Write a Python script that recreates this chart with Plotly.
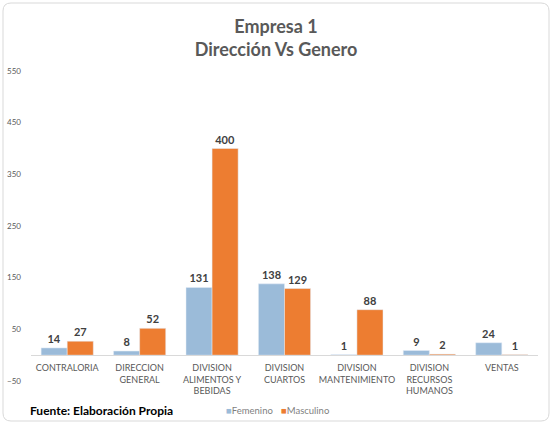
import plotly.graph_objects as go

categories = ["CONTRALORIA", "DIRECCION<br>GENERAL", "DIVISION<br>ALIMENTOS Y<br>BEBIDAS",
              "DIVISION<br>CUARTOS", "DIVISION<br>MANTENIMIENTO", "DIVISION<br>RECURSOS<br>HUMANOS", "VENTAS"]
femenino = [14, 8, 131, 138, 1, 9, 24]
masculino = [27, 52, 400, 129, 88, 2, 1]
y_ticks = [-50, 50, 150, 250, 350, 450, 550]
series_names = ["Femenino", "Masculino"]
series_colors = ["#9BBBD9", "#ED7D31"]

FONT = "Lato, 'Open Sans', sans-serif"
L, R, T, B = 31, 14, 71, 45
W, H = 552, 426
PW, PH = W - L - R, H - T - B


def px_x(px):
    return (px - L) / PW


def px_y(py):
    return (H - B - py) / PH


fig = go.Figure()
for name, vals, col in zip(series_names, [femenino, masculino], series_colors):
    fig.add_trace(go.Bar(name=name, x=categories, y=vals, marker_color=col,
                         text=vals, textposition="outside", cliponaxis=False, showlegend=False,
                         textfont=dict(size=11, color="#404040", family=FONT, weight="bold")))

# legend entries (compact square + label, as in the original)
for i, (name, col) in enumerate(zip(series_names, series_colors)):
    fig.add_trace(go.Scatter(x=[None], y=[None], mode="markers",
                             marker=dict(size=0.1, color="rgba(0,0,0,0)",
                                         line=dict(width=0, color="rgba(0,0,0,0)")),
                             name=f'<span style="color:{col}">■</span>{name}',
                             legend="legend" if i == 0 else "legend2", showlegend=True))

leg_common = dict(orientation="h", yanchor="middle", y=px_y(410), xanchor="left",
                  font=dict(size=9.5, color="#7F7F7F", family=FONT), bgcolor="rgba(0,0,0,0)")

# rounded border
x0, x1 = px_x(3), px_x(549)
y0, y1 = px_y(421), px_y(3)
rx, ry = 8 / PW, 8 / PH
path = (f"M {x0+rx},{y1} L {x1-rx},{y1} Q {x1},{y1} {x1},{y1-ry} "
        f"L {x1},{y0+ry} Q {x1},{y0} {x1-rx},{y0} L {x0+rx},{y0} Q {x0},{y0} {x0},{y0+ry} "
        f"L {x0},{y1-ry} Q {x0},{y1} {x0+rx},{y1} Z")

fig.update_layout(
    width=W, height=H,
    margin=dict(l=L, r=R, t=T, b=B, autoexpand=False),
    paper_bgcolor="white", plot_bgcolor="white",
    barmode="group", bargap=0.28, bargroupgap=0,
    font=dict(family=FONT, color="#595959"),
    title=dict(text="Empresa 1<br>Dirección Vs Genero", x=0.5, xanchor="center",
               y=1 - 33 / H, yanchor="middle",
               font=dict(size=18, color="#595959", family=FONT, weight="bold")),
    showlegend=True,
    legend=dict(x=px_x(228 - 42), **leg_common),
    legend2=dict(x=px_x(283 - 42), **leg_common),
    xaxis=dict(anchor="free", position=50 / 600, showline=True, linecolor="#D9D9D9",
               linewidth=1, ticks="", tickfont=dict(size=9, color="#595959", family=FONT),
               tickangle=0, showgrid=False, ticklabelstandoff=4),
    yaxis=dict(range=[-50, 550], tickvals=y_ticks, showgrid=False, zeroline=False,
               showline=False, tickfont=dict(size=8, color="#595959", family=FONT),
               ticklabelstandoff=9),
    annotations=[dict(text="<b>Fuente: Elaboración Propia</b>", xref="paper", yref="paper",
                      x=px_x(28), y=px_y(410), xanchor="left", yanchor="middle",
                      showarrow=False, font=dict(size=12, color="#000000", family=FONT))],
    shapes=[dict(type="path", xref="paper", yref="paper", path=path,
                 line=dict(color="#D9D9D9", width=1), layer="below")],
)

fig.write_html("out.html")
